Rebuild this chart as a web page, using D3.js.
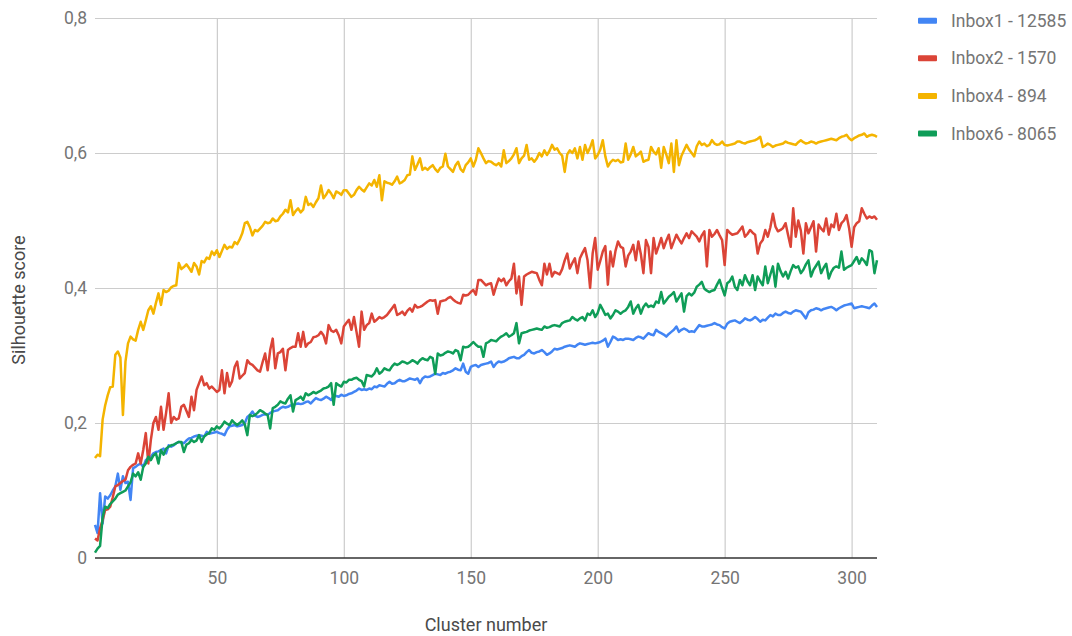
<!DOCTYPE html>
<html>
<head>
<meta charset="utf-8">
<script src="https://cdn.jsdelivr.net/npm/d3@7"></script>
<style>
  body { margin: 0; background: #fff; }
  text { font-family: Roboto, "Noto Sans", sans-serif; }
</style>
</head>
<body>
<svg id="chart" width="1072" height="636"></svg>
<script>
// Number of clusters k (2 .. 310)
const clusters = d3.range(2, 311);

// Silhouette score per k
const inbox1 = [
  .049,.037,.096,.051,.091,.088,.093,.1,.106,.125,
  .101,.121,.111,.113,.086,.133,.135,.138,.14,.135,
  .145,.148,.15,.155,.157,.158,.16,.162,.155,.167,
  .165,.167,.17,.172,.171,.17,.174,.177,.178,.18,
  .181,.182,.181,.18,.187,.184,.185,.186,.187,.185,
  .184,.182,.19,.195,.196,.197,.195,.196,.197,.2,
  .209,.212,.217,.211,.209,.21,.212,.213,.212,.215,
  .217,.218,.219,.222,.224,.223,.224,.226,.227,.228,
  .229,.228,.229,.231,.232,.229,.233,.237,.235,.234,
  .236,.239,.237,.234,.241,.24,.239,.242,.24,.241,
  .243,.244,.246,.248,.251,.249,.25,.249,.251,.25,
  .254,.253,.256,.255,.254,.258,.261,.258,.259,.262,
  .264,.262,.262,.264,.266,.265,.264,.266,.259,.266,
  .269,.268,.269,.271,.273,.272,.271,.274,.273,.275,
  .276,.278,.281,.279,.278,.288,.276,.273,.283,.285,
  .286,.283,.286,.287,.288,.289,.291,.283,.288,.291,
  .29,.291,.293,.296,.297,.298,.296,.296,.299,.301,
  .305,.308,.304,.303,.305,.306,.308,.305,.301,.303,
  .306,.31,.309,.31,.311,.313,.314,.315,.314,.313,
  .316,.318,.317,.316,.317,.318,.319,.318,.319,.32,
  .322,.325,.313,.32,.328,.326,.323,.324,.323,.325,
  .325,.324,.323,.326,.328,.327,.325,.329,.333,.331,
  .33,.338,.335,.333,.331,.328,.332,.335,.338,.343,
  .335,.338,.34,.338,.335,.336,.335,.34,.345,.343,
  .343,.344,.345,.346,.348,.346,.345,.342,.34,.347,
  .35,.351,.352,.35,.348,.351,.355,.353,.352,.354,
  .357,.354,.35,.353,.352,.356,.36,.358,.362,.36,
  .36,.363,.365,.363,.362,.365,.367,.366,.365,.36,
  .355,.364,.367,.368,.37,.369,.367,.369,.37,.371,
  .372,.37,.367,.37,.372,.374,.375,.376,.377,.37,
  .371,.372,.373,.372,.371,.37,.374,.377,.372
];
const inbox2 = [
  .029,.026,.044,.056,.071,.072,.076,.09,.106,.108,
  .111,.114,.116,.13,.135,.138,.14,.155,.14,.16,
  .185,.14,.175,.2,.209,.19,.224,.19,.215,.244,
  .2,.209,.205,.207,.224,.227,.218,.209,.239,.219,
  .249,.259,.269,.256,.259,.251,.254,.25,.246,.249,
  .278,.244,.274,.254,.262,.283,.291,.266,.27,.274,
  .293,.288,.286,.282,.278,.276,.29,.303,.278,.308,
  .325,.281,.303,.305,.31,.278,.308,.311,.313,.313,
  .333,.313,.335,.313,.318,.32,.327,.328,.33,.335,
  .33,.318,.345,.337,.335,.338,.33,.318,.343,.348,
  .353,.338,.357,.335,.313,.365,.338,.345,.348,.362,
  .35,.353,.357,.355,.357,.36,.365,.37,.375,.36,
  .362,.365,.36,.366,.37,.365,.375,.371,.372,.374,
  .377,.38,.382,.381,.382,.362,.38,.381,.382,.385,
  .387,.383,.38,.378,.377,.39,.389,.39,.394,.397,
  .39,.412,.412,.408,.404,.406,.407,.39,.403,.414,
  .41,.414,.404,.41,.414,.436,.392,.417,.375,.417,
  .42,.422,.424,.423,.422,.412,.404,.436,.42,.436,
  .417,.424,.422,.42,.428,.441,.451,.429,.437,.444,
  .422,.444,.452,.459,.441,.4,.451,.474,.427,.44,
  .454,.462,.405,.454,.432,.455,.469,.461,.459,.432,
  .448,.454,.464,.441,.469,.45,.422,.471,.461,.422,
  .474,.451,.462,.474,.459,.47,.479,.459,.469,.479,
  .472,.466,.474,.481,.474,.484,.48,.476,.469,.478,
  .484,.432,.486,.476,.48,.486,.478,.471,.434,.486,
  .482,.479,.48,.481,.486,.491,.476,.48,.486,.482,
  .479,.451,.466,.471,.486,.476,.49,.51,.491,.484,
  .486,.489,.496,.478,.461,.518,.476,.5,.485,.451,
  .496,.481,.49,.499,.454,.494,.488,.484,.503,.479,
  .494,.49,.51,.486,.496,.5,.508,.489,.461,.49,
  .496,.499,.518,.51,.503,.506,.504,.506,.501
];
const inbox4 = [
  .148,.153,.151,.205,.226,.241,.253,.254,.301,.306,
  .297,.212,.291,.318,.328,.324,.322,.338,.35,.338,
  .352,.367,.373,.362,.378,.392,.375,.397,.394,.396,
  .401,.403,.404,.437,.428,.431,.435,.43,.424,.437,
  .432,.42,.44,.438,.445,.443,.454,.449,.456,.446,
  .455,.464,.458,.461,.46,.468,.465,.472,.481,.496,
  .498,.49,.478,.486,.484,.488,.492,.498,.496,.497,
  .503,.499,.5,.506,.51,.516,.512,.53,.508,.514,
  .518,.512,.516,.535,.523,.525,.52,.527,.533,.552,
  .533,.538,.545,.54,.533,.543,.541,.538,.545,.545,
  .54,.535,.538,.545,.55,.546,.543,.549,.555,.552,
  .56,.55,.567,.53,.558,.556,.555,.553,.558,.565,
  .555,.557,.56,.567,.568,.595,.575,.583,.592,.575,
  .578,.575,.579,.582,.576,.572,.578,.58,.599,.58,
  .576,.572,.582,.587,.576,.572,.582,.586,.592,.58,
  .59,.607,.6,.592,.585,.588,.587,.584,.582,.585,
  .58,.604,.585,.588,.592,.598,.607,.585,.592,.596,
  .612,.59,.592,.587,.592,.6,.595,.604,.597,.603,
  .612,.605,.607,.6,.596,.572,.598,.604,.6,.607,
  .592,.609,.59,.612,.6,.608,.619,.592,.597,.605,
  .619,.595,.58,.586,.59,.588,.59,.586,.587,.614,
  .59,.598,.609,.595,.598,.602,.587,.589,.59,.609,
  .602,.598,.607,.578,.609,.598,.585,.614,.572,.619,
  .582,.596,.604,.612,.605,.6,.595,.61,.617,.612,
  .614,.61,.612,.619,.614,.612,.613,.617,.612,.611,
  .612,.613,.614,.617,.617,.615,.614,.616,.617,.618,
  .619,.621,.624,.609,.611,.614,.612,.609,.611,.612,
  .613,.614,.617,.615,.614,.613,.612,.616,.619,.616,
  .614,.615,.617,.616,.614,.616,.617,.618,.619,.62,
  .621,.62,.619,.622,.624,.625,.627,.622,.619,.622,
  .624,.626,.627,.629,.624,.626,.627,.626,.624
];
const inbox6 = [
  .008,.014,.018,.06,.076,.074,.08,.084,.088,.094,
  .096,.098,.1,.106,.112,.125,.121,.127,.116,.135,
  .14,.15,.145,.152,.155,.14,.16,.153,.162,.165,
  .167,.168,.17,.172,.172,.157,.168,.17,.175,.172,
  .174,.182,.172,.18,.183,.185,.192,.19,.195,.192,
  .196,.202,.199,.197,.204,.2,.197,.2,.204,.198,
  .182,.212,.21,.212,.215,.219,.217,.214,.212,.192,
  .222,.224,.227,.232,.23,.229,.236,.241,.217,.234,
  .236,.239,.234,.244,.241,.243,.246,.244,.246,.248,
  .251,.252,.254,.259,.227,.259,.256,.254,.261,.26,
  .264,.264,.266,.267,.264,.262,.254,.271,.27,.269,
  .273,.281,.273,.276,.281,.279,.278,.284,.288,.286,
  .288,.291,.29,.288,.29,.293,.291,.288,.293,.296,
  .294,.293,.298,.296,.273,.303,.3,.301,.304,.306,
  .305,.303,.308,.306,.293,.313,.312,.313,.316,.32,
  .316,.313,.313,.298,.318,.32,.323,.322,.321,.325,
  .328,.33,.333,.328,.33,.333,.348,.318,.333,.334,
  .335,.337,.338,.339,.34,.339,.338,.343,.341,.342,
  .344,.345,.344,.343,.348,.35,.351,.352,.357,.354,
  .352,.355,.357,.352,.362,.36,.367,.357,.363,.375,
  .368,.36,.362,.355,.36,.367,.365,.362,.365,.367,
  .372,.38,.362,.37,.375,.362,.372,.377,.372,.374,
  .372,.38,.378,.394,.377,.382,.387,.39,.394,.38,
  .386,.392,.365,.388,.392,.389,.393,.402,.405,.409,
  .399,.396,.394,.396,.397,.405,.412,.4,.389,.407,
  .41,.417,.402,.397,.412,.404,.419,.41,.404,.419,
  .397,.417,.41,.404,.432,.407,.42,.432,.402,.436,
  .425,.417,.424,.414,.425,.434,.43,.432,.422,.427,
  .435,.441,.417,.427,.433,.439,.422,.43,.436,.414,
  .424,.43,.432,.43,.454,.427,.43,.432,.434,.44,
  .446,.436,.444,.44,.434,.456,.454,.422,.441
];

const seriesNames = ["Inbox1 - 12585", "Inbox2 - 1570", "Inbox4 - 894", "Inbox6 - 8065"];
const seriesColors = ["#4285f4", "#db4437", "#f4b400", "#0f9d58"];
const seriesValues = [inbox1, inbox2, inbox4, inbox6];

const xTicks = [50, 100, 150, 200, 250, 300];
const yTicks = [0, 0.2, 0.4, 0.6, 0.8];
const xTitle = "Cluster number";
const yTitle = "Silhouette score";

const svg = d3.select("#chart");
const plotLeft = 95, plotRight = 877, plotTop = 18, plotBottom = 558;

const x = d3.scaleLinear().domain([2, 310]).range([plotLeft, plotRight]);
const y = d3.scaleLinear().domain([0, 0.8]).range([plotBottom, plotTop]);

const comma = d3.formatLocale({ decimal: ",", thousands: ".", grouping: [3], currency: ["", ""] }).format("~g");

// vertical gridlines + x tick labels
const gx = svg.append("g")
  .attr("transform", `translate(0,${plotBottom})`)
  .call(d3.axisBottom(x).tickValues(xTicks).tickSize(-(plotBottom - plotTop)).tickPadding(14));
gx.select(".domain").remove();
gx.selectAll(".tick line").attr("stroke", "#cccccc").attr("stroke-width", 1.2);
gx.selectAll(".tick text").attr("fill", "#757575").style("font-size", "17.5px").style("font-family", "Roboto");

// horizontal gridlines + y tick labels
const gy = svg.append("g")
  .attr("transform", `translate(${plotLeft},0)`)
  .call(d3.axisLeft(y).tickValues(yTicks).tickFormat(comma).tickSize(-(plotRight - plotLeft)).tickPadding(8));
gy.select(".domain").remove();
gy.selectAll(".tick line")
  .attr("stroke", d => d === 0 ? "none" : "#cccccc").attr("stroke-width", 1.2);
gy.selectAll(".tick text").attr("fill", "#757575").style("font-size", "17.5px").style("font-family", "Roboto");

// baseline at zero
svg.append("line")
  .attr("x1", plotLeft).attr("x2", plotRight)
  .attr("y1", y(0)).attr("y2", y(0))
  .attr("stroke", "#333333").attr("stroke-width", 1.3);

// series lines
const line = d3.line()
  .x((d, i) => x(clusters[i]))
  .y(d => y(d));

svg.append("g").selectAll("path")
  .data(seriesValues)
  .join("path")
  .attr("d", line)
  .attr("fill", "none")
  .attr("stroke", (d, i) => seriesColors[i])
  .attr("stroke-width", 2.5)
  .attr("stroke-linejoin", "round");

// axis titles
svg.append("text")
  .attr("x", (plotLeft + plotRight) / 2).attr("y", 631)
  .attr("text-anchor", "middle")
  .attr("fill", "#4a4a4a")
  .style("font-size", "18px")
  .text(xTitle);

svg.append("text")
  .attr("transform", `translate(24.5,300) rotate(-90)`)
  .attr("text-anchor", "middle")
  .attr("fill", "#4a4a4a")
  .style("font-size", "18px")
  .text(yTitle);

// legend
const legend = svg.append("g").selectAll("g")
  .data(seriesNames)
  .join("g")
  .attr("transform", (d, i) => `translate(918,${20.7 + i * 37.6})`);

legend.append("rect")
  .attr("x", 0).attr("y", -3).attr("width", 19).attr("height", 6).attr("rx", 1)
  .attr("fill", (d, i) => seriesColors[i]);

legend.append("text")
  .attr("x", 33).attr("y", 6)
  .attr("fill", "#757575")
  .style("font-size", "17.5px")
  .text(d => d);
</script>
</body>
</html>
